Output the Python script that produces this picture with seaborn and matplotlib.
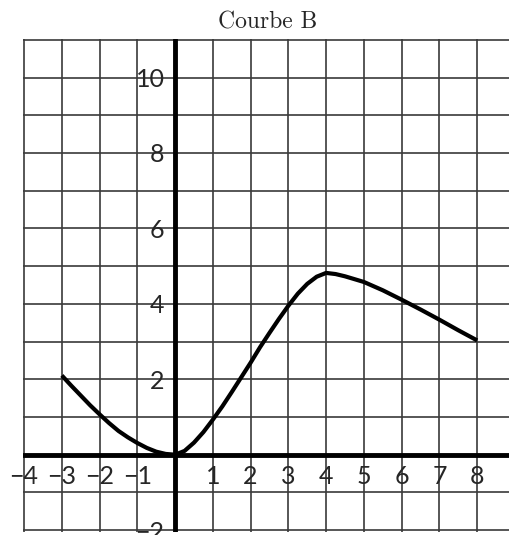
"""Courbe B: piecewise curve on a unit grid with bold axes."""
import matplotlib.pyplot as plt
import pandas as pd
import seaborn as sns

# Curve
x_vals = [-3.0, -2.75, -2.5, -2.25, -2.0, -1.75, -1.5, -1.25, -1.0, -0.75, -0.5, -0.25, 0.0,
          0.25, 0.5, 0.75, 1.0, 1.25, 1.5, 1.75, 2.0, 2.25, 2.5, 2.75, 3.0, 3.25, 3.5, 3.75, 4.0,
          4.25, 4.5, 5.0, 5.5, 6.0, 6.5, 7.0, 7.5, 8.0]
y_vals = [2.1, 1.83, 1.57, 1.31, 1.07, 0.84, 0.63, 0.46, 0.31, 0.18, 0.08, 0.02, 0.0,
          0.1, 0.32, 0.6, 0.93, 1.28, 1.66, 2.05, 2.44, 2.85, 3.23, 3.6, 3.95, 4.27, 4.53, 4.72, 4.82,
          4.79, 4.73, 4.58, 4.36, 4.11, 3.85, 3.58, 3.3, 3.03]

x_ticks = [-4, -3, -2, -1, 1, 2, 3, 4, 5, 6, 7, 8]
y_ticks = [-2, 2, 4, 6, 8, 10]
x_grid = list(range(-4, 9))
y_grid = list(range(-2, 12))

TITLE = "Courbe B"

sns.set_style("white")
plt.rcParams["font.family"] = ["Lato", "DejaVu Sans"]
plt.rcParams["axes.unicode_minus"] = True

fig = plt.figure(figsize=(5.1, 5.35), dpi=100)
ax = fig.add_axes([0.045, 0.0056, 0.955, 0.922])

for gx in x_grid:
    ax.axvline(gx, color="#3a3a3a", lw=1.2, zorder=1)
for gy in y_grid:
    ax.axhline(gy, color="#3a3a3a", lw=1.2, zorder=1)

ax.axhline(0, color="black", lw=3.5, zorder=2)
ax.axvline(0, color="black", lw=3.5, zorder=2)

df = pd.DataFrame({"x": x_vals, "y": y_vals})
sns.lineplot(data=df, x="x", y="y", ax=ax, color="black", lw=3,
             sort=False, zorder=3, solid_joinstyle="round", solid_capstyle="butt")

for t in x_ticks:
    ax.text(t, -0.58, f"{t}".replace("-", "\u2212"), ha="center", va="center",
            fontsize=18, zorder=4)
for t in y_ticks:
    ax.text(-0.28, t - 0.05, f"{t}".replace("-", "\u2212"), ha="right", va="center",
            fontsize=18, zorder=4, clip_on=False)

ax.set_xlim(-4.03, 8.87)
ax.set_ylim(-2.05, 11.03)
ax.set_xticks([])
ax.set_yticks([])
ax.set_xlabel("")
ax.set_ylabel("")
for s in ax.spines.values():
    s.set_visible(False)

fig.text(0.525, 0.958, TITLE, ha="center", va="center", fontsize=17,
         family="cmr10")

fig.savefig("out.png", dpi=100)
